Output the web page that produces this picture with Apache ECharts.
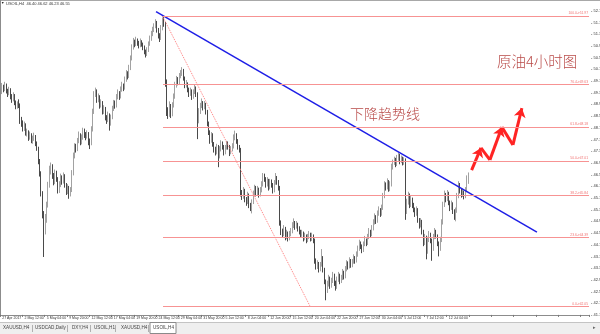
<!DOCTYPE html>
<html><head><meta charset="utf-8">
<script src="https://cdn.jsdelivr.net/npm/echarts/dist/echarts.min.js"></script>
<style>html,body{margin:0;padding:0;background:#fff}#c{width:600px;height:334px}</style>
</head><body><div id="c"></div>
<script>
// ---------- data ----------
const chartTitle = 'USOIL,H4  46.40 46.62 46.23 46.55';
const barsPerLabel = 16;
const totalSlots = 422;
const tickLabels = ['27 Apr 2017','2 May 12:00','5 May 04:00','9 May 20:00','12 May 12:00','17 May 04:00','19 May 20:00','24 May 12:00','29 May 04:00','31 May 20:00','5 Jun 12:00','8 Jun 04:00','12 Jun 20:00','15 Jun 12:00','20 Jun 04:00','22 Jun 20:00','27 Jun 12:00','30 Jun 04:00','5 Jul 12:00','7 Jul 12:00','12 Jul 04:00'];
// [open, high, low, close] per H4 bar
const ohlc = [
[49.25,49.48,49.18,49.35],[49.35,49.68,49.30,49.50],[49.50,49.62,49.36,49.45],[49.45,49.72,49.40,49.60],[49.60,49.66,49.32,49.40],
[49.40,49.48,49.20,49.30],[49.30,49.55,49.26,49.45],[49.45,49.50,49.12,49.20],[49.20,49.30,49.00,49.10],[49.10,49.36,49.05,49.25],
[49.25,49.30,48.92,49.00],[49.00,49.08,48.78,48.85],[48.85,49.05,48.80,48.95],[48.95,49.12,48.82,48.90],[48.90,48.98,48.28,48.35],
[48.35,48.52,48.18,48.30],[48.30,48.40,48.02,48.10],[48.10,48.36,48.04,48.25],[48.25,48.30,47.88,47.95],[47.95,48.12,47.85,48.00],
[48.00,48.06,47.70,47.80],[47.80,48.02,47.74,47.90],[47.90,47.96,47.62,47.70],[47.70,47.88,47.60,47.75],[47.75,47.98,47.70,47.85],
[47.85,47.90,47.52,47.60],[47.60,47.68,47.36,47.45],[47.45,47.50,46.90,47.00],[47.00,47.08,46.48,46.60],[46.60,46.66,45.80,45.90],
[45.90,45.98,45.05,45.20],[45.20,45.30,43.73,44.70],[44.70,45.20,44.50,45.00],[45.00,45.62,44.90,45.50],[45.50,46.30,45.42,46.20],
[46.20,46.85,46.10,46.70],[46.70,46.96,46.55,46.85],[46.85,46.90,46.40,46.50],[46.50,46.60,46.18,46.30],[46.30,46.72,46.22,46.60],
[46.60,46.68,46.30,46.40],[46.40,46.46,45.90,46.00],[46.00,46.32,45.92,46.20],[46.20,46.58,46.12,46.45],[46.45,46.52,46.20,46.30],
[46.30,46.62,46.24,46.50],[46.50,46.56,46.10,46.20],[46.20,46.26,45.85,45.95],[45.95,46.22,45.88,46.10],[46.10,46.16,45.72,45.85],
[45.85,46.12,45.80,46.00],[46.00,46.70,45.95,46.60],[46.60,47.30,46.52,47.20],[47.20,47.62,47.10,47.50],[47.50,47.60,47.30,47.40],
[47.40,47.80,47.35,47.70],[47.70,48.02,47.62,47.90],[47.90,47.96,47.55,47.65],[47.65,47.92,47.58,47.80],[47.80,48.15,47.74,48.05],
[48.05,48.12,47.80,47.90],[47.90,48.00,47.72,47.85],[47.85,48.06,47.78,47.95],[47.95,48.00,47.55,47.70],[47.70,47.78,47.42,47.60],
[47.60,48.20,47.55,48.10],[48.10,48.80,48.02,48.70],[48.70,49.40,48.62,49.30],[49.30,49.52,49.20,49.40],[49.40,49.46,49.00,49.10],
[49.10,49.32,49.02,49.20],[49.20,49.26,48.80,48.90],[48.90,49.12,48.84,49.00],[49.00,49.06,48.60,48.70],[48.70,48.92,48.62,48.80],
[48.80,48.86,48.40,48.50],[48.50,48.58,48.28,48.40],[48.40,48.70,48.34,48.60],[48.60,48.64,48.05,48.30],[48.30,48.60,48.22,48.50],
[48.50,48.90,48.44,48.80],[48.80,49.10,48.72,49.00],[49.00,49.08,48.80,48.90],[48.90,49.30,48.84,49.20],[49.20,49.46,49.12,49.35],
[49.35,49.40,49.10,49.20],[49.20,49.56,49.15,49.45],[49.45,49.72,49.38,49.60],[49.60,49.66,49.40,49.50],[49.50,49.90,49.45,49.80],
[49.80,50.12,49.72,50.00],[50.00,50.08,49.80,49.90],[49.90,50.30,49.85,50.20],[50.20,50.62,50.12,50.50],[50.50,51.00,50.45,50.90],
[50.90,51.22,50.82,51.10],[51.10,51.16,50.90,51.00],[51.00,51.26,50.94,51.15],[51.15,51.20,50.95,51.05],[51.05,51.12,50.86,50.95],
[50.95,51.20,50.90,51.10],[51.10,51.14,50.92,51.00],[51.00,51.06,50.80,50.90],[50.90,50.96,50.66,50.75],[50.75,50.82,50.55,50.65],
[50.65,50.90,50.60,50.80],[50.80,51.10,50.74,51.00],[51.00,51.30,50.95,51.20],[51.20,51.46,51.12,51.35],[51.35,51.60,51.28,51.50],
[51.50,51.72,51.42,51.60],[51.60,51.86,51.55,51.75],[51.75,51.80,51.40,51.50],[51.50,51.56,51.20,51.30],[51.30,51.38,51.08,51.20],
[51.20,51.66,51.15,51.55],[51.55,51.92,51.48,51.80],[51.80,51.97,51.60,51.70],[51.70,51.76,49.55,49.70],[49.70,49.80,48.55,48.70],
[48.70,48.85,48.45,48.60],[48.60,49.05,48.52,48.90],[48.90,48.96,48.48,48.60],[48.60,49.02,48.54,48.90],[48.90,49.32,48.84,49.20],
[49.20,49.72,49.14,49.60],[49.60,49.92,49.52,49.80],[49.80,49.88,49.60,49.70],[49.70,50.02,49.64,49.90],[49.90,50.12,49.84,50.00],
[50.00,50.22,49.92,50.10],[50.10,50.16,49.76,49.85],[49.85,49.90,49.50,49.60],[49.60,49.78,49.52,49.65],[49.65,49.70,49.36,49.45],
[49.45,49.52,49.20,49.30],[49.30,49.52,49.24,49.40],[49.40,49.46,49.10,49.20],[49.20,49.46,49.14,49.35],[49.35,49.62,49.30,49.50],
[49.50,49.56,49.20,49.30],[49.30,49.36,47.76,48.40],[48.40,48.82,48.30,48.70],[48.70,49.00,48.62,48.90],[48.90,49.15,48.82,49.00],
[49.00,49.06,48.74,48.85],[48.85,49.06,48.78,48.95],[48.95,49.00,48.60,48.70],[48.70,48.76,48.20,48.30],[48.30,48.36,47.90,48.00],
[48.00,48.06,47.60,47.70],[47.70,48.00,47.64,47.90],[47.90,47.96,47.50,47.60],[47.60,47.66,47.30,47.40],[47.40,47.50,47.20,47.30],
[47.30,47.60,47.24,47.50],[47.50,47.56,46.80,47.20],[47.20,47.52,47.10,47.40],[47.40,47.72,47.34,47.60],[47.60,47.68,47.40,47.50],
[47.50,47.56,47.20,47.30],[47.30,47.56,47.24,47.45],[47.45,47.70,47.40,47.60],[47.60,47.68,47.40,47.50],[47.50,47.56,47.18,47.30],
[47.30,47.52,47.24,47.40],[47.40,47.62,47.34,47.50],[47.50,47.92,47.44,47.80],[47.80,48.05,47.72,47.90],[47.90,47.96,47.60,47.70],
[47.70,47.76,47.40,47.50],[47.50,47.56,47.30,47.40],[47.40,47.46,45.80,45.90],[45.90,46.02,45.68,45.80],[45.80,46.12,45.72,46.00],
[46.00,46.06,45.60,45.70],[45.70,45.78,45.48,45.60],[45.60,45.96,45.54,45.85],[45.85,45.90,45.40,45.50],[45.50,45.58,45.30,45.40],
[45.40,45.70,45.22,45.60],[45.60,46.00,45.54,45.90],[45.90,46.20,45.84,46.10],[46.10,46.16,45.80,45.90],[45.90,46.16,45.84,46.05],
[46.05,46.10,45.76,45.85],[45.85,46.12,45.80,46.00],[46.00,46.32,45.94,46.20],[46.20,46.60,46.14,46.50],[46.50,46.58,46.30,46.40],
[46.40,46.46,46.10,46.20],[46.20,46.46,46.14,46.35],[46.35,46.40,46.00,46.10],[46.10,46.40,46.04,46.30],[46.30,46.38,46.10,46.20],
[46.20,46.26,45.90,46.00],[46.00,46.36,45.94,46.25],[46.25,46.60,46.20,46.45],[46.45,46.50,46.20,46.30],[46.30,46.36,46.00,46.10],
[46.10,46.16,44.80,44.90],[44.90,44.98,44.48,44.60],[44.60,44.70,44.38,44.50],[44.50,44.82,44.44,44.70],[44.70,44.76,44.30,44.40],
[44.40,44.66,44.34,44.55],[44.55,44.60,44.26,44.35],[44.35,44.62,44.30,44.50],[44.50,44.72,44.44,44.60],[44.60,44.92,44.54,44.80],
[44.80,45.05,44.72,44.90],[44.90,44.96,44.66,44.75],[44.75,44.96,44.70,44.85],[44.85,44.90,44.60,44.70],[44.70,44.78,44.50,44.60],
[44.60,44.66,44.40,44.50],[44.50,44.66,44.42,44.55],[44.55,44.60,44.26,44.35],[44.35,44.56,44.30,44.45],[44.45,44.50,44.20,44.30],
[44.30,44.52,44.24,44.40],[44.40,44.62,44.34,44.50],[44.50,44.56,44.26,44.35],[44.35,44.56,44.28,44.45],[44.45,44.50,44.20,44.30],
[44.30,44.36,43.50,43.60],[43.60,43.68,43.30,43.40],[43.40,43.62,43.32,43.50],[43.50,43.56,43.20,43.30],[43.30,43.56,43.24,43.45],
[43.45,44.00,43.40,43.70],[43.70,43.76,43.20,43.30],[43.30,43.36,42.80,42.90],[42.90,42.96,42.25,42.60],[42.60,42.92,42.50,42.80],
[42.80,43.12,42.72,43.00],[43.00,43.06,42.64,42.75],[42.75,43.02,42.68,42.90],[42.90,43.22,42.84,43.10],[43.10,43.16,42.74,42.85],
[42.85,42.92,42.58,42.70],[42.70,43.06,42.64,42.95],[42.95,43.22,42.88,43.10],[43.10,43.16,42.80,42.90],[42.90,43.12,42.84,43.00],
[43.00,43.32,42.94,43.20],[43.20,43.26,42.96,43.05],[43.05,43.42,43.00,43.30],[43.30,43.62,43.24,43.50],[43.50,43.58,43.30,43.40],
[43.40,43.72,43.34,43.60],[43.60,43.66,43.36,43.45],[43.45,43.66,43.38,43.55],[43.55,43.82,43.50,43.70],[43.70,43.76,43.50,43.60],
[43.60,43.92,43.54,43.80],[43.80,44.12,43.74,44.00],[44.00,44.32,43.94,44.20],[44.20,44.26,44.00,44.10],[44.10,44.16,43.86,43.95],
[43.95,44.26,43.90,44.15],[44.15,44.45,44.10,44.30],[44.30,44.36,44.10,44.20],[44.20,44.52,44.14,44.40],[44.40,44.72,44.34,44.60],
[44.60,44.66,44.40,44.50],[44.50,44.82,44.44,44.70],[44.70,45.02,44.64,44.90],[44.90,45.22,44.84,45.10],[45.10,45.16,44.86,44.95],
[44.95,45.32,44.90,45.20],[45.20,45.46,45.14,45.35],[45.35,45.40,45.10,45.20],[45.20,45.52,45.14,45.40],[45.40,45.92,45.34,45.80],
[45.80,46.32,45.74,46.20],[46.20,46.28,46.00,46.10],[46.10,46.42,46.04,46.30],[46.30,46.36,45.96,46.05],[46.05,46.32,45.98,46.20],
[46.20,46.92,46.14,46.80],[46.80,47.06,46.72,46.95],[46.95,47.16,46.88,47.05],[47.05,47.12,46.80,46.90],[46.90,47.22,46.84,47.10],
[47.10,47.30,47.02,47.20],[47.20,47.26,46.90,47.00],[47.00,47.20,46.94,47.10],[47.10,47.16,46.86,46.95],[46.95,47.14,46.88,47.05],
[47.05,47.10,45.00,45.30],[45.30,45.72,45.20,45.60],[45.60,45.96,45.52,45.85],[45.85,45.90,45.40,45.50],[45.50,45.82,45.44,45.70],
[45.70,45.76,45.40,45.50],[45.50,45.58,45.26,45.35],[45.35,45.42,45.10,45.20],[45.20,45.46,45.14,45.35],[45.35,45.40,44.90,45.00],
[45.00,45.06,44.70,44.80],[44.80,45.06,44.74,44.95],[44.95,45.00,44.50,44.60],[44.60,44.66,44.10,44.20],[44.20,44.52,44.14,44.40],
[44.40,44.46,43.65,43.90],[43.90,44.42,43.84,44.30],[44.30,44.62,44.24,44.50],[44.50,44.56,44.20,44.30],[44.30,44.36,43.60,44.00],
[44.00,44.52,43.94,44.40],[44.40,44.72,44.34,44.60],[44.60,44.66,44.36,44.45],[44.45,44.50,44.10,44.20],[44.20,44.26,43.75,44.00],
[44.00,44.42,43.94,44.30],[44.30,45.02,44.24,44.90],[44.90,45.62,44.84,45.50],[45.50,46.00,45.44,45.85],[45.85,45.92,45.60,45.70],
[45.70,46.02,45.64,45.90],[45.90,45.96,45.50,45.60],[45.60,45.66,45.30,45.40],[45.40,45.66,45.34,45.55],[45.55,45.60,45.20,45.30],
[45.30,45.36,45.00,45.10],[45.10,45.42,44.95,45.30],[45.30,45.92,45.24,45.80],[45.80,46.32,45.74,46.20],[46.20,46.26,45.90,46.00],
[46.00,46.06,45.76,45.85],[45.85,46.06,45.78,45.95],[45.95,46.00,45.70,45.80],[45.80,46.12,45.74,46.00],[46.00,46.52,45.94,46.40],
[46.40,46.62,46.23,46.55]
];
const fibLevels = [['100.0',51.97],['76.4',49.63],['61.8',48.18],['50.0',47.01],['38.2',45.84],['23.6',44.39],['0.0',42.05]];
const fibStartIndex = 116.3;
const fibDiagonal = [[115.9,51.97],[221.6,42.05]];
const trendLine = [[111.3,52.12],[384.2,44.58]];
const arrowPoints = [[337.4,46.70],[344.1,47.46],[350.5,47.05],[359.1,48.17],[367.0,47.56],[373.4,48.82]];
const yMin = 41.75, yMax = 52.516, yLabelStep = 0.40, yFineStep = 0.05;
const tabs = [['XAUUSD,H4',3],['USDCAD,Daily',35],['DXY,H4',72],['USOIL,H1',94],['XAUUSD,H4',121],['USOIL,H4',153]];
const tabSeparators = [32,67,90,115,148];

// ---------- chart ----------
const chart = echarts.init(document.getElementById('c'), null, {renderer:'canvas'});
const cats = Array.from({length: totalSlots}, (_, i) => String(i));
const lastClose = ohlc[ohlc.length - 1][3];
const tiny = 'Liberation Sans, Arial, sans-serif';

const upSegs = [], downSegs = [];
for (let i = 0; i < arrowPoints.length - 1; i++) {
  const seg = {coords: [arrowPoints[i], arrowPoints[i + 1]]};
  (arrowPoints[i + 1][1] > arrowPoints[i][1] ? upSegs : downSegs).push(seg);
}

const graphic = [
  {type:'line', shape:{x1:0,y1:0.5,x2:600,y2:0.5}, style:{stroke:'#a8a8a8',lineWidth:1}, silent:true},
  {type:'text', left:1, top:1, style:{text:'\u25BC', fontSize:3.5, fill:'#222', fontFamily:tiny}},
  {type:'text', left:6, top:1.5, style:{text:chartTitle, fontSize:4, fill:'#333', fontFamily:tiny}},
  {type:'rect', shape:{x:0,y:322,width:600,height:12}, style:{fill:'#efefef'}, silent:true},
  {type:'line', shape:{x1:0,y1:322.5,x2:600,y2:322.5}, style:{stroke:'#c4c4c4',lineWidth:1}, silent:true},
  {type:'rect', shape:{x:150,y:322.5,width:26,height:11}, style:{fill:'#fff',stroke:'#8a8a8a',lineWidth:1}, silent:true},
  {type:'text', left:593, top:325, style:{text:'\u25B8', fontSize:5, fill:'#666', fontFamily:tiny}},
  {type:'text', left:350, top:107, style:{text:'下降趋势线', fontSize:14, fill:'#b94a48', fontFamily:'Noto Sans CJK SC', fontWeight:300}},
  {type:'text', left:497, top:54, style:{text:'原油4小时图', fontSize:14.5, fill:'#b94a48', fontFamily:'Noto Sans CJK SC', fontWeight:300}}
];
tabs.forEach(([t, x]) => graphic.push({type:'text', left:x, top:325.5, style:{text:t, fontSize:4.6, fill:'#444', fontFamily:tiny}}));
tabSeparators.forEach(x => graphic.push({type:'line', shape:{x1:x+0.5,y1:325,x2:x+0.5,y2:332}, style:{stroke:'#b0b0b0',lineWidth:1}}));

chart.setOption({
  animation: false,
  backgroundColor: '#ffffff',
  grid: {left: 0, right: 11, top: 0, bottom: 19.1, containLabel: false, outerBoundsMode: 'none'},
  xAxis: [{
    type: 'category', data: cats, boundaryGap: true,
    axisLine: {show: true, lineStyle: {color: '#8c8c8c', width: 1}},
    axisTick: {show: true, length: 2, interval: (i) => i % barsPerLabel === 0, lineStyle: {color: '#777'}},
    axisLabel: {
      interval: (i) => i % barsPerLabel === 0 && i / barsPerLabel < tickLabels.length,
      formatter: (v, i) => tickLabels[Number(v) / barsPerLabel] || '',
      fontSize: 3.5, color: '#333', fontFamily: tiny, align: 'left', margin: 1.5, padding: [0,0,0,1.5],
      hideOverlap: false
    },
    splitLine: {show: false}
  }, {
    type: 'value', min: -0.5, max: totalSlots - 0.5, show: false, gridIndex: 0
  }],
  yAxis: [{
    type: 'value', position: 'right', min: yMin, max: yMax, interval: yFineStep, scale: true,
    axisLine: {show: true, lineStyle: {color: '#8c8c8c', width: 1}},
    axisTick: {show: false},
    splitLine: {show: false},
    axisLabel: {
      showMaxLabel: false, showMinLabel: true, margin: 2, fontSize: 4, color: '#333', fontFamily: tiny,
      formatter: (v) => {
        const k = Math.round((v - yMin) / yFineStep);
        return (k % Math.round(yLabelStep / yFineStep) === 0) ? '- ' + v.toFixed(2) : '';
      }
    }
  }],
  series: [
    {
      type: 'candlestick', xAxisIndex: 0, yAxisIndex: 0,
      data: ohlc.map(r => [r[0], r[3], r[2], r[1]]),
      barWidth: 1.1,
      itemStyle: {color: '#9c9c9c', color0: '#1c1c1c', borderColor: '#8a8a8a', borderColor0: '#1c1c1c', borderWidth: 0.8},
      markLine: {
        silent: true, symbol: ['none','none'], animation: false,
        lineStyle: {opacity: 0},
        label: {show: true, position: 'end', distance: 0.5, formatter: lastClose.toFixed(2),
                backgroundColor: '#000', color: '#fff', fontSize: 4, padding: [1,1,1,1], fontFamily: tiny},
        data: [{yAxis: lastClose}]
      }
    },
    {
      type: 'line', xAxisIndex: 1, yAxisIndex: 0, data: fibDiagonal, symbol: 'none', silent: true,
      lineStyle: {color: '#ff7d7d', width: 1, type: 'dotted'},
      markLine: {
        silent: true, symbol: ['none','none'], animation: false,
        lineStyle: {color: '#f79393', width: 1, type: 'solid'},
        label: {show: true, position: 'insideEndTop', distance: 1, formatter: '{b}', fontSize: 3.3, color: '#f07070', fontFamily: tiny},
        data: fibLevels.map(([r, p]) => [
          {coord: [fibStartIndex, p], name: r + '->' + p.toFixed(2)},
          {coord: [totalSlots - 0.5, p]}
        ])
      }
    },
    {
      type: 'line', xAxisIndex: 1, yAxisIndex: 0, data: trendLine, symbol: 'none', silent: true,
      lineStyle: {color: '#1e1ee6', width: 1.5}
    },
    {
      type: 'lines', coordinateSystem: 'cartesian2d', xAxisIndex: 1, yAxisIndex: 0, silent: true,
      symbol: ['none','arrow'], symbolSize: 9,
      lineStyle: {color: '#ff2424', width: 3, opacity: 1, curveness: 0},
      data: upSegs
    },
    {
      type: 'lines', coordinateSystem: 'cartesian2d', xAxisIndex: 1, yAxisIndex: 0, silent: true,
      symbol: ['none','none'],
      lineStyle: {color: '#ff2424', width: 3, opacity: 1, curveness: 0},
      data: downSegs
    }
  ],
  graphic: graphic
});
</script>
</body></html>
